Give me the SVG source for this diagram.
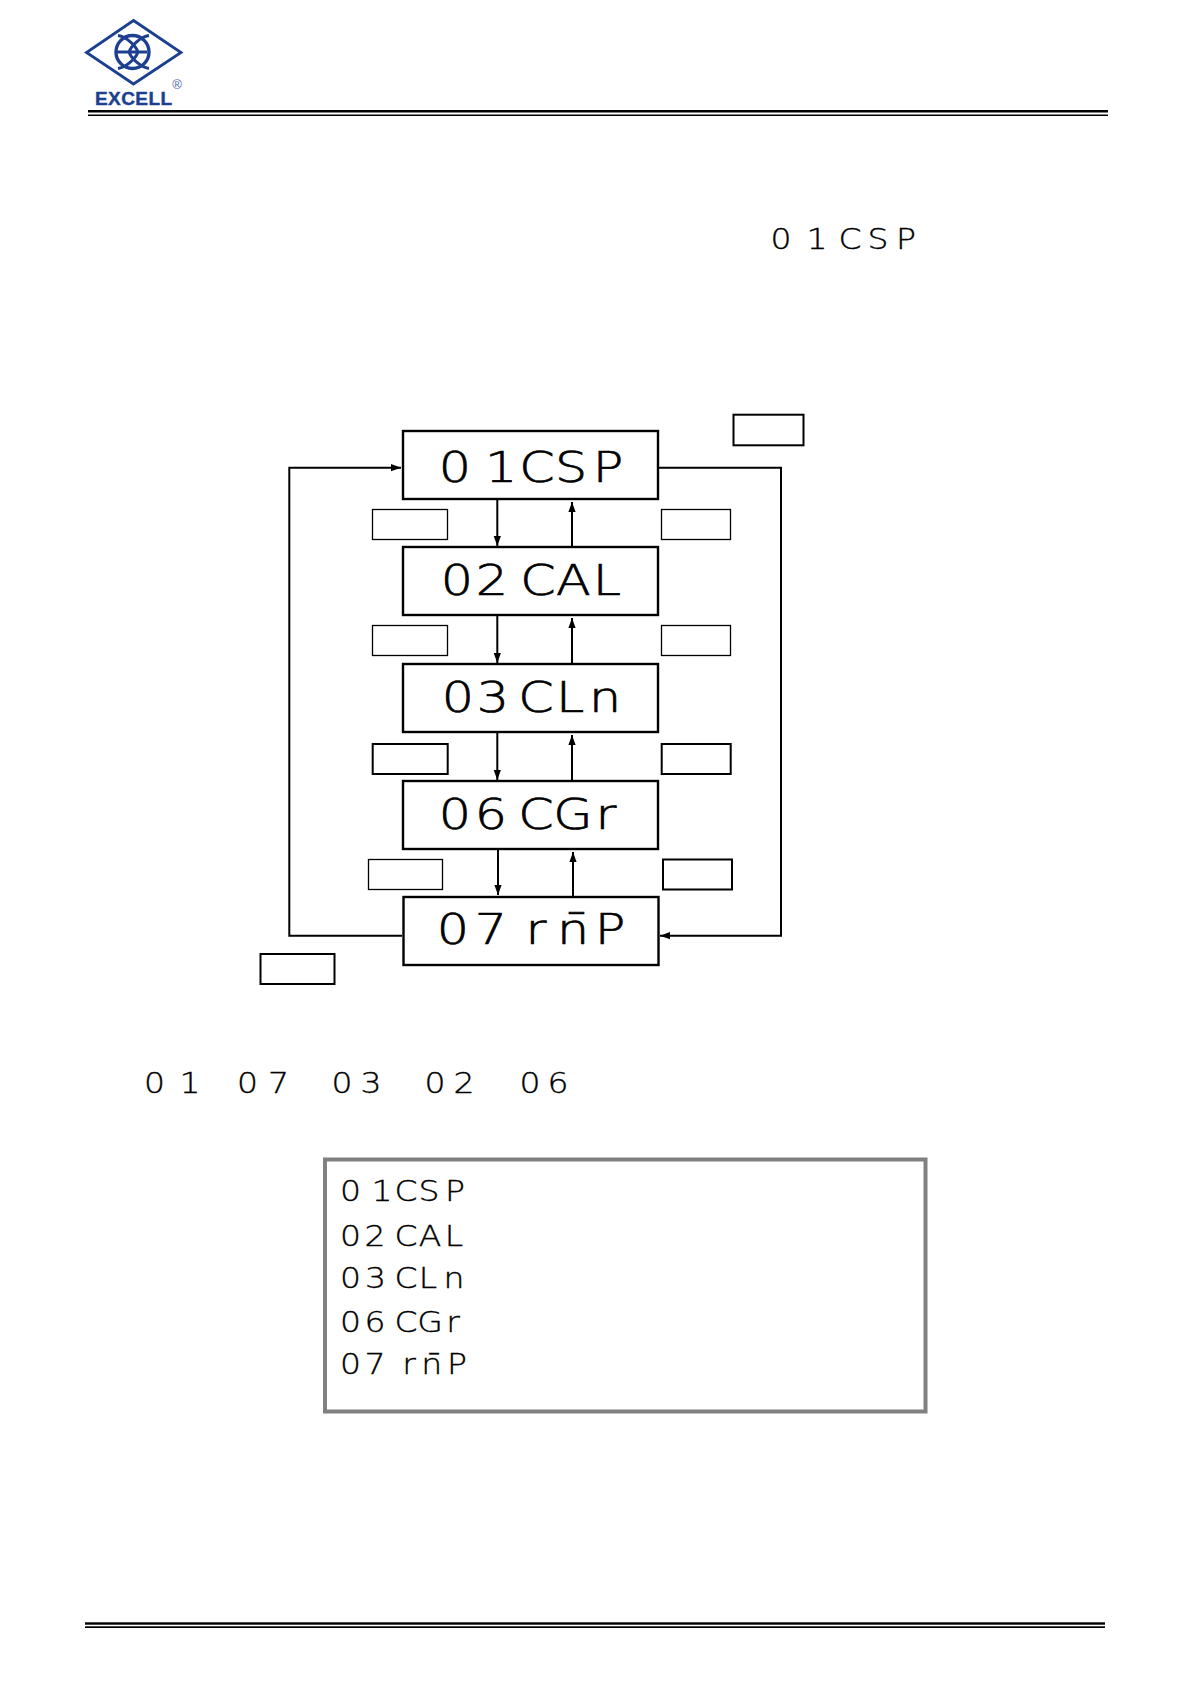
<svg xmlns="http://www.w3.org/2000/svg" width="1191" height="1685" viewBox="0 0 1191 1685">
<style>
.disp{fill:none;stroke:#000;stroke-width:2.4}
.key{fill:none;stroke:#000}
.k1{stroke-width:1.3}.k2{stroke-width:2}
.wire{fill:none;stroke:#000;stroke-width:2}
.seg{font-family:"DejaVu Sans","Liberation Sans",sans-serif;font-weight:200;fill:#000;text-anchor:middle}
.lg{font-size:43px;stroke:#000;stroke-width:.7}
.sm{font-size:28px;stroke:#000;stroke-width:.35}
.logo{fill:none;stroke:#1c3f8f}
</style>
<defs>
<marker id="ah" viewBox="0 0 10 8" refX="10" refY="4" markerWidth="10" markerHeight="8" markerUnits="userSpaceOnUse" orient="auto"><path d="M0 0.4L10 4L0 7.6Z" fill="#000"/></marker>
</defs>
<rect width="1191" height="1685" fill="#fff"/>
<g id="logo">
<path class="logo" stroke-width="2.800" d="M133.500 20.500L181 52.500L133.500 84L86.500 52.500Z"/>
<ellipse class="logo" stroke-width="3.400" cx="132.500" cy="52" rx="16.500" ry="16.500"/>
<path class="logo" stroke-width="3" d="M118 35.500C127 37 136 46 138 52C136 58 127 67 118 68.500M149 35.500C140 37 131 46 129 52C131 58 140 67 149 68.500M117 52H147"/>
<text x="95" y="105" font-family="'Liberation Sans',sans-serif" font-weight="700" font-size="19" fill="#1c3f8f" stroke="#1c3f8f" stroke-width=".4" textLength="77">EXCELL</text>
<text x="177" y="89" font-family="'Liberation Sans',sans-serif" font-size="13" fill="#4a66a6" text-anchor="middle">®</text>
</g>
<g id="rules">
<rect x="88" y="110" width="1020" height="2.500"/>
<rect x="88" y="114.500" width="1020" height="1.500"/>
<rect x="85" y="1622.300" width="1020" height="2.400"/>
<rect x="85" y="1626.300" width="1020" height="1.700"/>
</g>
<text id="intro-code" class="seg sm" transform="scale(1.18 1)" x="661.900 692.400 720.300 744.100 767.800" y="249">01CSP</text>
<g id="connectors">
<path class="wire" marker-end="url(#ah)" d="M497.300 500V546"/>
<path class="wire" marker-end="url(#ah)" d="M572 546V502"/>
<path class="wire" marker-end="url(#ah)" d="M497.300 616V663"/>
<path class="wire" marker-end="url(#ah)" d="M572 663V618"/>
<path class="wire" marker-end="url(#ah)" d="M497.300 733V780"/>
<path class="wire" marker-end="url(#ah)" d="M572 780V735"/>
<path class="wire" marker-end="url(#ah)" d="M498 850V895"/>
<path class="wire" marker-end="url(#ah)" d="M573 896V852"/>
<path class="wire" marker-end="url(#ah)" d="M402 935.700H289.300V467.700H401"/>
<path class="wire" marker-end="url(#ah)" d="M659 467.700H781V935.700H660"/>
</g>
<g id="node-01CSP"><rect class="disp" x="403" y="431" width="255" height="68"/><text class="seg lg" transform="scale(1.18 1)" x="385.600 424.600 455.100 483.900 515.300" y="482">01CSP</text></g>
<g id="node-02CAL"><rect class="disp" x="403" y="547" width="255" height="68"/><text class="seg lg" transform="scale(1.18 1)" x="387.300 416.900 455.900 486 514.400" y="595">02CAL</text></g>
<g id="node-03CLn"><rect class="disp" x="403" y="664" width="255" height="68"/><text class="seg lg" transform="scale(1.18 1)" x="388.100 417.800 454.200 483.100 512.700" y="712">03CLn</text></g>
<g id="node-06CGr"><rect class="disp" x="403" y="781" width="255" height="68"/><text class="seg lg" transform="scale(1.18 1)" x="385.600 416.100 454.200 485.600 513.600" y="829">06CGr</text></g>
<g id="node-07rmP"><rect class="disp" x="403.500" y="897" width="255" height="68"/><text class="seg lg" transform="scale(1.18 1)" x="383.900 416.100 454.200 485.600 499.200 516.900" y="944">07rn̄P</text></g>
<g id="keys">
<rect class="key k2" x="733.500" y="414.700" width="70" height="30.600"/>
<rect class="key k1" x="372.500" y="509.500" width="75" height="30"/>
<rect class="key k1" x="661.500" y="509.500" width="69" height="30"/>
<rect class="key k1" x="372.500" y="625.500" width="75" height="30"/>
<rect class="key k1" x="661.500" y="625.500" width="69" height="30"/>
<rect class="key k2" x="372.700" y="744" width="75" height="30"/>
<rect class="key k2" x="661.700" y="744" width="69" height="30"/>
<rect class="key k1" x="368.500" y="859.500" width="74" height="30"/>
<rect class="key k2" x="663" y="859.500" width="69" height="30"/>
<rect class="key k2" x="260.500" y="954" width="74" height="30"/>
</g>
<g id="code-row">
<text class="seg sm" transform="scale(1.18 1)" x="130.900 161" y="1093">01</text>
<text class="seg sm" transform="scale(1.18 1)" x="209.700 236" y="1093">07</text>
<text class="seg sm" transform="scale(1.18 1)" x="289.800 314.400" y="1093">03</text>
<text class="seg sm" transform="scale(1.18 1)" x="368.600 393.200" y="1093">02</text>
<text class="seg sm" transform="scale(1.18 1)" x="449.200 472.900" y="1093">06</text>
</g>
<g id="panel">
<rect x="325" y="1159.500" width="600.500" height="252" fill="none" stroke="#808080" stroke-width="4"/>
<text class="seg sm" transform="scale(1.18 1)" x="297 323.700 344.100 363.600 385.600" y="1200.700">01CSP</text>
<text class="seg sm" transform="scale(1.18 1)" x="297 317.800 344.100 364.400 384.700" y="1245.700">02CAL</text>
<text class="seg sm" transform="scale(1.18 1)" x="297 318.200 344.100 362.700 384.700" y="1288">03CLn</text>
<text class="seg sm" transform="scale(1.18 1)" x="297 317.800 344.100 364.400 383.900" y="1331.700">06CGr</text>
<text class="seg sm" transform="scale(1.18 1)" x="297 317.800 346.600 365.800 374.700 387.300" y="1374">07rn̄P</text>
</g>
</svg>
